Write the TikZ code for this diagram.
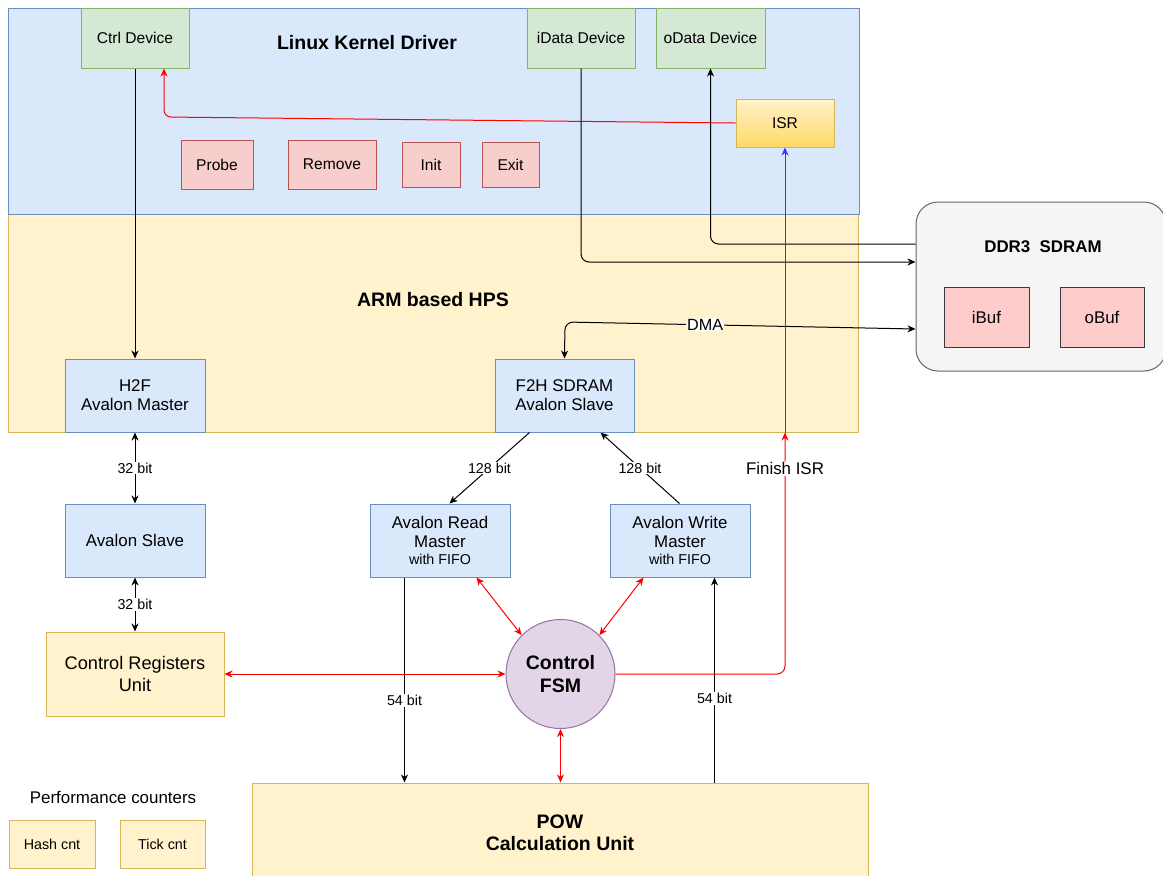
\documentclass[tikz,border=0pt]{standalone}
\usepackage{fontspec}
\setmainfont{Liberation Sans}
\usetikzlibrary{arrows.meta,shapes.geometric,calc}
\definecolor{blueF}{HTML}{DAE8FC}\definecolor{blueS}{HTML}{6C8EBF}
\definecolor{yelF}{HTML}{FFF2CC}\definecolor{yelS}{HTML}{D6B656}
\definecolor{grnF}{HTML}{D5E8D4}\definecolor{grnS}{HTML}{82B366}
\definecolor{redF}{HTML}{F8CECC}\definecolor{redS}{HTML}{B85450}
\definecolor{pinkF}{HTML}{FFCCCC}\definecolor{pinkS}{HTML}{36393D}
\definecolor{grayF}{HTML}{F5F5F5}\definecolor{grayS}{HTML}{666666}
\definecolor{purF}{HTML}{E1D5E7}\definecolor{purS}{HTML}{9673A6}
\definecolor{isrB}{HTML}{FFD966}
\definecolor{lineR}{HTML}{FF0000}
\definecolor{lineB}{HTML}{3333FF}
\newcommand{\fsz}[2]{\fontsize{#1}{#2}\selectfont}
\begin{document}
\begin{tikzpicture}[x=1pt,y=-1pt,
  box/.style={draw, line width=1pt, inner sep=0pt, align=center, text=black},
  bl/.style={box, fill=blueF, draw=blueS},
  ye/.style={box, fill=yelF, draw=yelS},
  gr/.style={box, fill=grnF, draw=grnS},
  rd/.style={box, fill=redF, draw=redS},
  pk/.style={box, fill=pinkF, draw=pinkS},
  tip/.style={Stealth[length=8pt,width=7pt,inset=2.5pt]},
  conn/.style={line width=1pt, -{Stealth[length=8pt,width=7pt,inset=2.5pt]}},
  bconn/.style={line width=1pt, {Stealth[length=8pt,width=7pt,inset=2.5pt]}-{Stealth[length=8pt,width=7pt,inset=2.5pt]}},
  lbl/.style={fill=white, inner sep=1pt, text=black, font=\fsz{14.3}{16}},
]
\useasboundingbox (0,0) rectangle (1163,876);
\clip (0,0) rectangle (1163,876);
\fill[white] (0,0) rectangle (1163,876);

% big regions
\node[ye, minimum width=850pt, minimum height=218pt] (hps) at (433,323) {};
\node[bl, minimum width=851pt, minimum height=206pt] (lkd) at (433.5,111) {};
\node[font=\bfseries\fsz{19.5}{22}] (lkdt) at (367,43) {Linux Kernel Driver};
\node[font=\bfseries\fsz{19.5}{22}] (hpst) at (433,300) {ARM based HPS};

% kernel driver parts
\node[gr, minimum width=108pt, minimum height=60pt, font=\fsz{15.6}{18}] (ctrl) at (135,38) {Ctrl Device};
\node[gr, minimum width=108pt, minimum height=60pt, font=\fsz{15.6}{18}] (idata) at (581,38) {iData Device};
\node[gr, minimum width=109pt, minimum height=60pt, font=\fsz{15.6}{18}] (odata) at (710.5,38) {oData Device};
\node[box, draw=yelS, top color=yelF, bottom color=isrB, minimum width=98pt, minimum height=48pt, font=\fsz{15.6}{18}] (isr) at (785,123) {ISR};
\node[rd, minimum width=72pt, minimum height=49pt, font=\fsz{15.6}{18}] (probe) at (217,164.5) {Probe};
\node[rd, minimum width=88pt, minimum height=49pt, font=\fsz{15.6}{18}] (remove) at (332,164.5) {Remove};
\node[rd, minimum width=58pt, minimum height=45pt, font=\fsz{15.6}{18}] (init) at (431,164.5) {Init};
\node[rd, minimum width=57pt, minimum height=45pt, font=\fsz{15.6}{18}] (exit) at (510.5,164.5) {Exit};

% DDR3
\node[box, fill=grayF, draw=grayS, rounded corners=22pt, minimum width=250pt, minimum height=169pt] (ddr) at (1041,286.5) {};
\node[font=\bfseries\fsz{16.9}{19}] (ddrt) at (1043,247) {DDR3\ \ SDRAM};
\node[pk, minimum width=85pt, minimum height=60pt, font=\fsz{16.9}{19}] (ibuf) at (986.5,317) {iBuf};
\node[pk, minimum width=84pt, minimum height=60pt, font=\fsz{16.9}{19}] (obuf) at (1102,317) {oBuf};

% HPS bridges
\node[bl, minimum width=140pt, minimum height=73pt, font=\fsz{16.9}{19}] (h2f) at (135,395.5) {H2F\\Avalon Master};
\node[bl, minimum width=139pt, minimum height=73pt, font=\fsz{16.9}{19}] (f2h) at (564.5,395.5) {F2H SDRAM\\Avalon Slave};

% FPGA side
\node[bl, minimum width=140pt, minimum height=73pt, font=\fsz{16.9}{19}] (aslave) at (135,540.5) {Avalon Slave};
\node[bl, minimum width=140pt, minimum height=73pt, font=\fsz{16.9}{19}] (rmaster) at (440,540.5) {Avalon Read\\Master\\[-2pt]{\fsz{14.3}{16}with FIFO}};
\node[bl, minimum width=140pt, minimum height=73pt, font=\fsz{16.9}{19}] (wmaster) at (680,540.5) {Avalon Write\\Master\\[-2pt]{\fsz{14.3}{16}with FIFO}};
\node[ye, minimum width=178pt, minimum height=84pt, font=\fsz{18.2}{22}] (cru) at (135,674) {Control Registers\\Unit};
\node[circle, draw=purS, fill=purF, line width=1pt, minimum size=109pt, inner sep=0pt, align=center, font=\bfseries\fsz{19.5}{23}] (fsm) at (560.5,674) {Control\\FSM};
\node[ye, minimum width=616pt, minimum height=100pt, font=\bfseries\fsz{19.5}{22}] (pow) at (560,833) {POW\\Calculation Unit};

% performance counters
\node[font=\fsz{16.9}{19}] (perf) at (113,797) {Performance counters};
\node[ye, minimum width=86pt, minimum height=48pt, font=\fsz{14.3}{16}] (hash) at (52,844) {Hash cnt};
\node[ye, minimum width=85pt, minimum height=48pt, font=\fsz{14.3}{16}] (tick) at (162.5,844) {Tick cnt};

% helper coordinates
\coordinate (y244) at (0,244);
\coordinate (y262) at (0,262);
\coordinate (y329) at (0,329);
\coordinate (dA) at (ddr.west |- y244);
\coordinate (dB) at (ddr.west |- y262);
\coordinate (dC) at (ddr.west |- y329);
\coordinate (dmaK) at (565,322);
\coordinate (c1) at (164,117);
\coordinate (fi) at (isr.south |- hps.south);
\coordinate (f2hR) at ($(f2h.south west)+(35,0)$);
\coordinate (f2hW) at ($(f2h.south west)+(106,0)$);
\coordinate (rmT) at ($(rmaster.north west)+(80,0)$);
\coordinate (wmT) at ($(wmaster.north west)+(70,0)$);
\coordinate (rmB) at ($(rmaster.south west)+(35,0)$);
\coordinate (wmB) at ($(wmaster.south west)+(105,0)$);
\coordinate (rmR) at ($(rmaster.south west)+(107,0)$);
\coordinate (wmR) at ($(wmaster.south west)+(34,0)$);

% kernel connectors
\draw[conn] (ctrl.south) -- (h2f.north);
\draw[conn, lineR, rounded corners=7pt] (isr.west) -- (c1) -- (c1 |- ctrl.south);
\draw[conn, rounded corners=8pt] (idata.south) -- (idata.south |- dB) -- (dB);
\draw[conn, rounded corners=8pt] (dA) -- (odata.south |- dA) -- (odata.south);
\draw[bconn, rounded corners=8pt] (dC) -- node[pos=0.6, fill=white, inner sep=1pt, font=\fsz{16.2}{18}] {DMA} (dmaK) -- (f2h.north);

% bus connectors
\draw[bconn] (h2f.south) -- node[lbl] {32 bit} (aslave.north);
\draw[bconn] (aslave.south) -- node[lbl] {32 bit} (cru.north);
\draw[conn] (f2hR) -- node[lbl] {128 bit} (rmT);
\draw[conn] (wmT) -- node[lbl] {128 bit} (f2hW);
\draw[conn] (rmB) -- node[lbl, pos=0.6] {54 bit} (rmB |- pow.north);
\draw[conn] (wmB |- pow.north) -- node[lbl, pos=0.41] {54 bit} (wmB);

% control connectors
\draw[bconn, lineR] (rmR) -- (fsm.135);
\draw[bconn, lineR] (wmR) -- (fsm.45);
\draw[bconn, lineR] (cru.east) -- (fsm.west);
\draw[bconn, lineR] (fsm.south) -- (fsm.south |- pow.north);
\draw[conn, lineR, rounded corners=8pt] (fsm.east) -- (fsm.east -| fi) -- node[pos=0.85, fill=white, inner sep=1pt, text=black, font=\fsz{16.9}{19}] {Finish ISR} (fi);
\draw[conn, lineB] (fi) -- (isr.south);
\end{tikzpicture}
\end{document}
